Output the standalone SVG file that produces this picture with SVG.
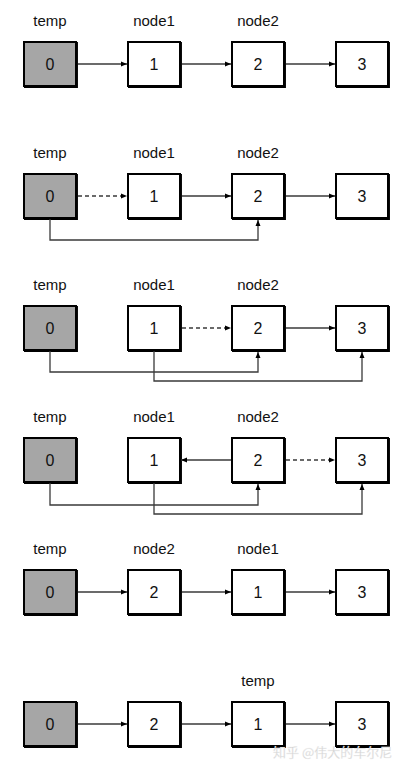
<svg xmlns="http://www.w3.org/2000/svg" xmlns:xlink="http://www.w3.org/1999/xlink" width="406" height="772" viewBox="0 0 406 772">
<style>
  .lbl{font-family:"Liberation Sans",Arial,sans-serif;font-size:15px;fill:#111;text-anchor:middle}
  .num{font-family:"Liberation Sans",Arial,sans-serif;font-size:16px;fill:#111;text-anchor:middle}
  .ln{fill:none;stroke:#3a3a3a;stroke-width:1.3}
  .dash{stroke-dasharray:4 3}
  .bx{stroke:#000;stroke-width:2}
  .sh{fill:none;stroke:#000;stroke-width:1.5}
  .wm{font-family:"Noto Sans CJK SC","Liberation Sans",sans-serif;font-size:13px;fill:#d0d0d0;stroke:#f4f4f4;stroke-width:0.3}
</style>
<defs>
  <marker id="ah" markerUnits="userSpaceOnUse" markerWidth="7" markerHeight="6" refX="6" refY="3" orient="auto">
    <path d="M0,0.5 L6,3 L0,5.5 Z" fill="#000"/>
  </marker>
  <g id="box">
    <rect x="0" y="0" width="52" height="44" class="bx"/>
    <path d="M53.2,0 V45.2 H0" class="sh"/>
  </g>
</defs>
<rect width="406" height="772" fill="#fff"/>

<!-- Row 1 -->
<g id="r1">
  <text class="lbl" x="50" y="26">temp</text>
  <text class="lbl" x="154" y="26">node1</text>
  <text class="lbl" x="258" y="26">node2</text>
  <g id="r1n0"><use xlink:href="#box" x="24" y="42" fill="#a6a6a6"/><text class="num" x="50" y="70">0</text></g>
  <g id="r1n1"><use xlink:href="#box" x="128" y="42" fill="#fff"/><text class="num" x="154" y="70">1</text></g>
  <g id="r1n2"><use xlink:href="#box" x="232" y="42" fill="#fff"/><text class="num" x="258" y="70">2</text></g>
  <g id="r1n3"><use xlink:href="#box" x="336" y="42" fill="#fff"/><text class="num" x="362" y="70">3</text></g>
</g>
<!-- Row 2 -->
<g id="r2">
  <text class="lbl" x="50" y="158">temp</text>
  <text class="lbl" x="154" y="158">node1</text>
  <text class="lbl" x="258" y="158">node2</text>
  <g id="r2n0"><use xlink:href="#box" x="24" y="174" fill="#a6a6a6"/><text class="num" x="50" y="202">0</text></g>
  <g id="r2n1"><use xlink:href="#box" x="128" y="174" fill="#fff"/><text class="num" x="154" y="202">1</text></g>
  <g id="r2n2"><use xlink:href="#box" x="232" y="174" fill="#fff"/><text class="num" x="258" y="202">2</text></g>
  <g id="r2n3"><use xlink:href="#box" x="336" y="174" fill="#fff"/><text class="num" x="362" y="202">3</text></g>
</g>
<!-- Row 3 -->
<g id="r3">
  <text class="lbl" x="50" y="290">temp</text>
  <text class="lbl" x="154" y="290">node1</text>
  <text class="lbl" x="258" y="290">node2</text>
  <g id="r3n0"><use xlink:href="#box" x="24" y="306" fill="#a6a6a6"/><text class="num" x="50" y="334">0</text></g>
  <g id="r3n1"><use xlink:href="#box" x="128" y="306" fill="#fff"/><text class="num" x="154" y="334">1</text></g>
  <g id="r3n2"><use xlink:href="#box" x="232" y="306" fill="#fff"/><text class="num" x="258" y="334">2</text></g>
  <g id="r3n3"><use xlink:href="#box" x="336" y="306" fill="#fff"/><text class="num" x="362" y="334">3</text></g>
</g>
<!-- Row 4 -->
<g id="r4">
  <text class="lbl" x="50" y="422">temp</text>
  <text class="lbl" x="154" y="422">node1</text>
  <text class="lbl" x="258" y="422">node2</text>
  <g id="r4n0"><use xlink:href="#box" x="24" y="438" fill="#a6a6a6"/><text class="num" x="50" y="466">0</text></g>
  <g id="r4n1"><use xlink:href="#box" x="128" y="438" fill="#fff"/><text class="num" x="154" y="466">1</text></g>
  <g id="r4n2"><use xlink:href="#box" x="232" y="438" fill="#fff"/><text class="num" x="258" y="466">2</text></g>
  <g id="r4n3"><use xlink:href="#box" x="336" y="438" fill="#fff"/><text class="num" x="362" y="466">3</text></g>
</g>
<!-- Row 5 -->
<g id="r5">
  <text class="lbl" x="50" y="554">temp</text>
  <text class="lbl" x="154" y="554">node2</text>
  <text class="lbl" x="258" y="554">node1</text>
  <g id="r5n0"><use xlink:href="#box" x="24" y="570" fill="#a6a6a6"/><text class="num" x="50" y="598">0</text></g>
  <g id="r5n2"><use xlink:href="#box" x="128" y="570" fill="#fff"/><text class="num" x="154" y="598">2</text></g>
  <g id="r5n1"><use xlink:href="#box" x="232" y="570" fill="#fff"/><text class="num" x="258" y="598">1</text></g>
  <g id="r5n3"><use xlink:href="#box" x="336" y="570" fill="#fff"/><text class="num" x="362" y="598">3</text></g>
</g>
<!-- Row 6 -->
<g id="r6">
  <text class="lbl" x="258" y="686">temp</text>
  <g id="r6n0"><use xlink:href="#box" x="24" y="702" fill="#a6a6a6"/><text class="num" x="50" y="730">0</text></g>
  <g id="r6n2"><use xlink:href="#box" x="128" y="702" fill="#fff"/><text class="num" x="154" y="730">2</text></g>
  <g id="r6n1"><use xlink:href="#box" x="232" y="702" fill="#fff"/><text class="num" x="258" y="730">1</text></g>
  <g id="r6n3"><use xlink:href="#box" x="336" y="702" fill="#fff"/><text class="num" x="362" y="730">3</text></g>
</g>

<g id="connectors">
  <!-- row 1 -->
  <path class="ln" d="M78,64 H127" marker-end="url(#ah)"/>
  <path class="ln" d="M182,64 H231" marker-end="url(#ah)"/>
  <path class="ln" d="M286,64 H335" marker-end="url(#ah)"/>
  <!-- row 2 -->
  <path class="ln dash" d="M78,196 H127" marker-end="url(#ah)"/>
  <path class="ln" d="M182,196 H231" marker-end="url(#ah)"/>
  <path class="ln" d="M286,196 H335" marker-end="url(#ah)"/>
  <path class="ln" d="M50,219 V240 H258 V220" marker-end="url(#ah)"/>
  <!-- row 3 -->
  <path class="ln dash" d="M182,328 H231" marker-end="url(#ah)"/>
  <path class="ln" d="M286,328 H335" marker-end="url(#ah)"/>
  <path class="ln" d="M50,351 V372 H258 V352" marker-end="url(#ah)"/>
  <path class="ln" d="M154,351 V381 H362 V352" marker-end="url(#ah)"/>
  <!-- row 4 -->
  <path class="ln" d="M231,460 H181" marker-end="url(#ah)"/>
  <path class="ln dash" d="M286,460 H335" marker-end="url(#ah)"/>
  <path class="ln" d="M50,483 V505 H258 V484" marker-end="url(#ah)"/>
  <path class="ln" d="M154,483 V514 H362 V484" marker-end="url(#ah)"/>
  <!-- row 5 -->
  <path class="ln" d="M78,592 H127" marker-end="url(#ah)"/>
  <path class="ln" d="M182,592 H231" marker-end="url(#ah)"/>
  <path class="ln" d="M286,592 H335" marker-end="url(#ah)"/>
  <!-- row 6 -->
  <path class="ln" d="M78,724 H127" marker-end="url(#ah)"/>
  <path class="ln" d="M182,724 H231" marker-end="url(#ah)"/>
  <path class="ln" d="M286,724 H335" marker-end="url(#ah)"/>
</g>

<text class="wm" x="273" y="757">知乎 @伟大的车尔尼</text>
</svg>
